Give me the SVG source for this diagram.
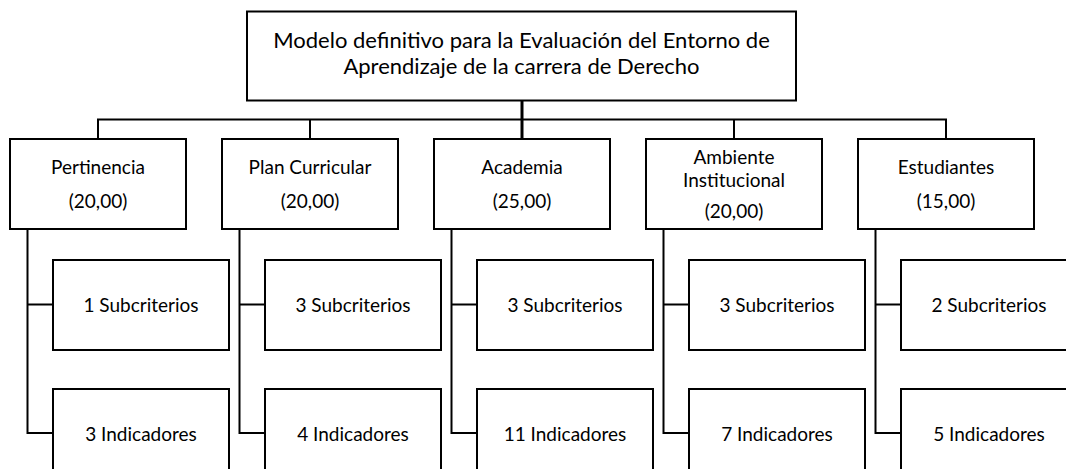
<svg xmlns="http://www.w3.org/2000/svg" width="1066" height="469" viewBox="0 0 1066 469">
<style>
.box{fill:#fff;stroke:#000;stroke-width:2}
.ln{fill:none;stroke:#000;stroke-width:2}
text{font-family:Lato,"Open Sans",sans-serif;font-size:19px;fill:#000;text-anchor:middle}
.t{font-size:22px}
</style>
<rect width="1066" height="469" fill="#fff"/>
<g id="connectors">
<path class="ln" d="M98,139 V119.5 H946 V139 M310,119.5 V139 M734,119.5 V139"/>
<path class="ln" style="stroke-width:3" d="M522,100 V139"/>
<path class="ln" d="M27.5,229 V433 H53 M27.5,304.5 H53"/>
<path class="ln" d="M239.5,229 V433 H265 M239.5,304.5 H265"/>
<path class="ln" d="M451.5,229 V433 H477 M451.5,304.5 H477"/>
<path class="ln" d="M663.5,229 V433 H689 M663.5,304.5 H689"/>
<path class="ln" d="M875.5,229 V433 H901 M875.5,304.5 H901"/>
</g>
<g id="root"><rect class="box" x="247" y="11.5" width="549" height="89"/>
<text class="t" x="521.5" y="48">Modelo definitivo para la Evaluación del Entorno de</text>
<text class="t" x="521.5" y="74">Aprendizaje de la carrera de Derecho</text></g>
<g id="pertinencia"><rect class="box" x="10" y="139" width="176" height="90"/>
<text x="98" y="174">Pertinencia</text><text x="98" y="208">(20,00)</text></g>
<g id="plan"><rect class="box" x="222" y="139" width="176" height="90"/>
<text x="310" y="174">Plan Curricular</text><text x="310" y="208">(20,00)</text></g>
<g id="academia"><rect class="box" x="434" y="139" width="176" height="90"/>
<text x="522" y="174">Academia</text><text x="522" y="208">(25,00)</text></g>
<g id="ambiente"><rect class="box" x="646" y="139" width="176" height="90"/>
<text x="734" y="164">Ambiente</text><text x="734" y="187">Institucional</text><text x="734" y="218">(20,00)</text></g>
<g id="estudiantes"><rect class="box" x="858" y="139" width="176" height="90"/>
<text x="946" y="174">Estudiantes</text><text x="946" y="208">(15,00)</text></g>
<g id="sub1"><rect class="box" x="53" y="260" width="176" height="90"/><text x="141" y="312">1 Subcriterios</text></g>
<g id="sub2"><rect class="box" x="265" y="260" width="176" height="90"/><text x="353" y="312">3 Subcriterios</text></g>
<g id="sub3"><rect class="box" x="477" y="260" width="176" height="90"/><text x="565" y="312">3 Subcriterios</text></g>
<g id="sub4"><rect class="box" x="689" y="260" width="176" height="90"/><text x="777" y="312">3 Subcriterios</text></g>
<g id="sub5"><rect class="box" x="901" y="260" width="176" height="90"/><text x="989" y="312">2 Subcriterios</text></g>
<g id="ind1"><rect class="box" x="53" y="389" width="176" height="90"/><text x="141" y="441">3 Indicadores</text></g>
<g id="ind2"><rect class="box" x="265" y="389" width="176" height="90"/><text x="353" y="441">4 Indicadores</text></g>
<g id="ind3"><rect class="box" x="477" y="389" width="176" height="90"/><text x="565" y="441">11 Indicadores</text></g>
<g id="ind4"><rect class="box" x="689" y="389" width="176" height="90"/><text x="777" y="441">7 Indicadores</text></g>
<g id="ind5"><rect class="box" x="901" y="389" width="176" height="90"/><text x="989" y="441">5 Indicadores</text></g>
</svg>
